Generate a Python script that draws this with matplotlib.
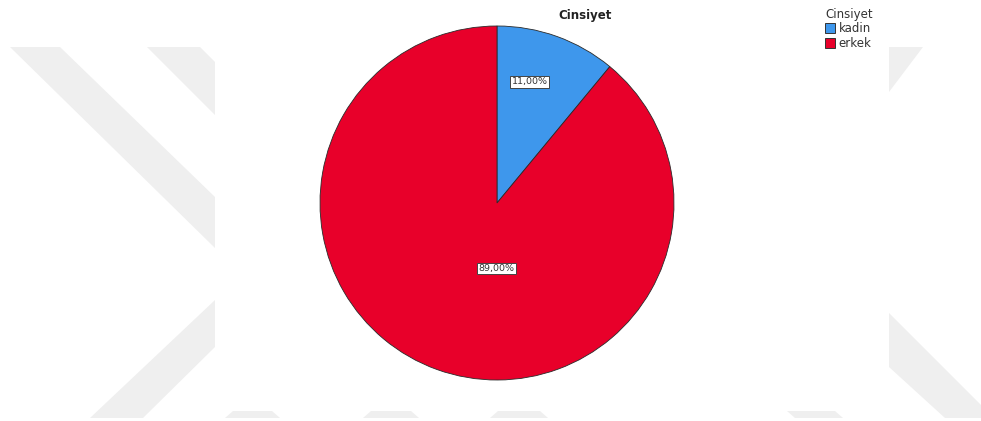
import matplotlib
matplotlib.use('Agg')
import matplotlib.pyplot as plt
from matplotlib.patches import Polygon, Rectangle
import numpy as np

# data
categories = ["kadin", "erkek"]
percentages = [11.0, 89.0]
pct_labels = ["11,00%", "89,00%"]
colors = ["#3E97EC", "#E8002A"]
title = "Cinsiyet"

W, H = 981, 421
fig = plt.figure(figsize=(W / 100, H / 100), dpi=100)
ax = fig.add_axes([0, 0, 1, 1])
ax.set_xlim(0, W)
ax.set_ylim(0, H)
ax.axis('off')

def img(pts):
    # image coords (y down) -> axes coords (y up)
    return [(x, H - y) for x, y in pts]

# background watermark stripes
stripes = [
    [(10, 47), (60, 47), (215, 197), (215, 248)],
    [(147, 47), (200, 47), (215, 62), (215, 115)],
    [(90, 418), (143, 418), (215, 347), (215, 300)],
    [(889, 47), (923, 47), (889, 92)],
    [(889, 313), (981, 405), (981, 418), (945, 418), (889, 367)],
    [(225, 418), (233, 411), (272, 411), (280, 418)],
    [(363, 418), (371, 411), (411, 411), (419, 418)],
    [(490, 418), (498, 411), (540, 411), (548, 418)],
    [(787, 411), (835, 411), (843, 418), (795, 418)],
]
for s in stripes:
    ax.add_patch(Polygon(img(s), closed=True, facecolor="#efefef", edgecolor="none", zorder=0))

# white chart panel
ax.add_patch(Rectangle((215, H - 411), 889 - 215, 411, facecolor="white", edgecolor="none", zorder=1))

# pie
cx, cy, r = 497, H - 203, 177
wedges, _ = ax.pie(percentages, colors=colors, startangle=90, counterclock=False,
                   center=(cx, cy), radius=r, frame=True,
                   wedgeprops=dict(edgecolor="#2a2a2a", linewidth=0.6))
for w in wedges:
    w.set_zorder(2)
ax.set_xlim(0, W)
ax.set_ylim(0, H)
ax.set_aspect('equal')
ax.axis('off')

# percentage labels (angle in degrees, fraction of radius)
label_pos = [(74.9, 0.71), (-90.5, 0.37)]
for txt, (ang, frac) in zip(pct_labels, label_pos):
    a = np.deg2rad(ang)
    ax.text(cx + frac * r * np.cos(a), cy + frac * r * np.sin(a), txt,
            ha="center", va="center", fontsize=6.8, color="#333333", zorder=3,
            bbox=dict(boxstyle="square,pad=0.15", facecolor="white", edgecolor="#444444", linewidth=0.7))

ax.text(585, H - 16, title, ha="center", va="center", fontsize=8.5, fontweight="bold",
        color="#222222", zorder=3)

handles = [Rectangle((0, 0), 1, 1, facecolor=c, edgecolor="#333333", linewidth=0.7) for c in colors]
leg = fig.legend(handles, categories, title=title, loc="upper left",
                 bbox_to_anchor=(825 / W, 1 - 8 / H), frameon=False, fontsize=8.5,
                 title_fontsize=8.5, alignment="left", handlelength=0.85, handleheight=0.9,
                 handletextpad=0.3, labelspacing=0.12, borderpad=0, borderaxespad=0)
for t in leg.get_texts():
    t.set_color("#333333")
leg.get_title().set_color("#333333")

fig.savefig("out.png", dpi=100)
